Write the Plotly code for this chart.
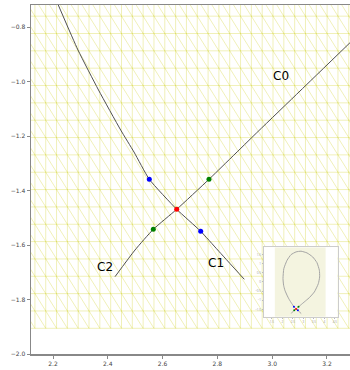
import plotly.graph_objects as go

# ---- mesh grid (triangular mesh, yellow) ----
mesh_r = [2.0945, 2.134, 2.1735, 2.213, 2.2525, 2.292, 2.3315, 2.371, 2.4105, 2.450,
          2.4895, 2.529, 2.5685, 2.608, 2.6475, 2.687, 2.7265, 2.766, 2.8055, 2.845,
          2.8845, 2.924, 2.9635, 3.003, 3.0425, 3.082, 3.1215, 3.161, 3.2005, 3.240,
          3.2795, 3.319]
mesh_z = [-0.6953, -0.759, -0.8227, -0.8864, -0.9501, -1.0138, -1.0775, -1.1412, -1.2049,
          -1.2686, -1.3323, -1.396, -1.4597, -1.5234, -1.5871, -1.6508, -1.7145, -1.7782,
          -1.8419, -1.9056]

# ---- separatrix legs ----
curve_a_r = [2.2193, 2.2912, 2.3661, 2.4471, 2.4956, 2.5515, 2.6515, 2.7391, 2.8011, 2.8982]
curve_a_z = [-0.7181, -0.8834, -1.0303, -1.1773, -1.2581, -1.3583, -1.4685, -1.5493, -1.6180, -1.7256]
curve_b_r = [2.4263, 2.4993, 2.5661, 2.6515, 2.7693, 2.9482, 3.1015, 3.2839]
curve_b_z = [-1.7161, -1.6180, -1.5420, -1.4685, -1.3583, -1.1827, -1.0340, -0.8566]

# upper part of the closed flux surface (inset)
lcfs_r = [2.2193, 2.12, 2.06, 2.03, 2.07, 2.225, 2.415, 2.652, 2.889, 3.173, 3.443, 3.647,
          3.761, 3.775, 3.713, 3.524, 3.2839]
lcfs_z = [-0.7181, -0.45, -0.178, 0.183, 0.730, 1.189, 1.495, 1.642, 1.680, 1.587, 1.369,
          1.057, 0.642, 0.276, -0.090, -0.544, -0.8566]

# ---- points ----
xpt_r, xpt_z = [2.6515], [-1.4685]
blue_r, blue_z = [2.5515, 2.7391], [-1.3583, -1.5493]
green_r, green_z = [2.7693, 2.5661], [-1.3583, -1.5420]

# ---- labels ----
labels = ["C0", "C1", "C2"]
label_r = [3.032, 2.796, 2.390]
label_z = [-0.979, -1.667, -1.679]

x_ticks = [2.2, 2.4, 2.6, 2.8, 3.0, 3.2]
y_ticks = [-2.0, -1.8, -1.6, -1.4, -1.2, -1.0, -0.8]
inset_x_ticks = [1.5, 2.0, 2.5, 3.0, 3.5, 4.0, 4.5]
inset_y_ticks = [-1.5, -1.0, -0.5, 0.0, 0.5, 1.0, 1.5]
inset_x_range = [1.135, 4.628]
inset_y_range = [-1.893, 1.899]

# build mesh segments
mx, my = [], []
for z in mesh_z:
    mx += [mesh_r[0], mesh_r[-1], None]
    my += [z, z, None]
for r in mesh_r:
    mx += [r, r, None]
    my += [mesh_z[0], mesh_z[-1], None]
for i in range(len(mesh_r) - 1):
    for j in range(len(mesh_z) - 1):
        mx += [mesh_r[i], mesh_r[i + 1], None]
        my += [mesh_z[j], mesh_z[j + 1], None]

fig = go.Figure()
mesh_col = "rgba(200,200,0,0.28)"
fig.add_trace(go.Scatter(x=mx, y=my, mode="lines", line=dict(color=mesh_col, width=1),
                         hoverinfo="skip", showlegend=False))
line_col = "rgb(80,80,80)"
fig.add_trace(go.Scatter(x=curve_a_r, y=curve_a_z, mode="lines",
                         line=dict(color=line_col, width=1, shape="spline", smoothing=0.5), showlegend=False))
fig.add_trace(go.Scatter(x=curve_b_r, y=curve_b_z, mode="lines",
                         line=dict(color=line_col, width=1, shape="spline", smoothing=0.5), showlegend=False))
fig.add_trace(go.Scatter(x=blue_r, y=blue_z, mode="markers", marker=dict(color="blue", size=5), showlegend=False))
fig.add_trace(go.Scatter(x=green_r, y=green_z, mode="markers", marker=dict(color="green", size=5), showlegend=False))
fig.add_trace(go.Scatter(x=xpt_r, y=xpt_z, mode="markers", marker=dict(color="red", size=5), showlegend=False))

for t, r, z in zip(labels, label_r, label_z):
    fig.add_annotation(x=r, y=z, text=t, showarrow=False, xref="x", yref="y",
                       font=dict(family="DejaVu Sans", size=12, color="black"))

# ---- inset ----
x0, x1 = inset_x_range
y0, y1 = inset_y_range
fig.add_trace(go.Scatter(x=[x0, x1, x1, x0, x0], y=[y0, y0, y1, y1, y0], fill="toself",
                         fillcolor="white", mode="lines", line=dict(width=0),
                         xaxis="x2", yaxis="y2", showlegend=False, hoverinfo="skip"))
fig.add_trace(go.Scatter(x=[1.642, 4.059, 4.059, 1.642, 1.642],
                         y=[mesh_z[-1], mesh_z[-1], y1, y1, mesh_z[-1]], fill="toself",
                         fillcolor="rgb(244,244,224)", mode="lines", line=dict(width=0),
                         xaxis="x2", yaxis="y2", showlegend=False, hoverinfo="skip"))
in_col = "rgb(165,165,165)"
for rr, zz in [(curve_a_r, curve_a_z), (curve_b_r, curve_b_z), (lcfs_r, lcfs_z)]:
    fig.add_trace(go.Scatter(x=rr, y=zz, mode="lines", line=dict(color=in_col, width=1, shape="spline", smoothing=0.5),
                             xaxis="x2", yaxis="y2", showlegend=False))
fig.add_trace(go.Scatter(x=blue_r, y=blue_z, mode="markers", marker=dict(color="blue", size=2),
                         xaxis="x2", yaxis="y2", showlegend=False))
fig.add_trace(go.Scatter(x=green_r, y=green_z, mode="markers", marker=dict(color="green", size=2),
                         xaxis="x2", yaxis="y2", showlegend=False))
fig.add_trace(go.Scatter(x=xpt_r, y=xpt_z, mode="markers", marker=dict(color="red", size=2),
                         xaxis="x2", yaxis="y2", showlegend=False))

tickfont = dict(family="DejaVu Sans", size=6, color="#444")
fig.update_layout(
    width=350, height=370,
    margin=dict(l=31, r=0, t=5, b=16),
    paper_bgcolor="white", plot_bgcolor="white",
    hovermode=False,
    xaxis=dict(range=[2.1197, 3.284], tickvals=x_ticks, tickformat=".1f", ticks="outside",
               ticklen=3, tickcolor="#888", showline=True, linecolor="#888", linewidth=1.5,
               mirror=True, showgrid=False, zeroline=False, tickfont=tickfont),
    yaxis=dict(range=[-2.0, -0.718], tickvals=y_ticks, tickformat=".1f", ticks="outside",
               ticklen=3, tickcolor="#888", showline=True, linecolor="#888", linewidth=1.5,
               showgrid=False, zeroline=False, tickfont=tickfont),
    xaxis2=dict(domain=[0.731, 0.961], anchor="y2", range=inset_x_range, tickvals=inset_x_ticks,
                ticks="outside", ticklen=1.5, tickcolor="#bbb", showline=True, linecolor="#ccc",
                linewidth=1, mirror=True, showgrid=False, zeroline=False,
                tickfont=dict(size=3, color="#999")),
    yaxis2=dict(domain=[0.107, 0.306], anchor="x2", range=inset_y_range, tickvals=inset_y_ticks,
                ticks="outside", ticklen=1.5, tickcolor="#bbb", showline=True, linecolor="#ccc",
                linewidth=1, mirror=True, showgrid=False, zeroline=False,
                tickfont=dict(size=3, color="#999")),
)

fig.write_html("out.html", config={"displayModeBar": False, "staticPlot": True},
               post_script="document.body.style.margin='0';document.body.style.overflow='hidden';")
